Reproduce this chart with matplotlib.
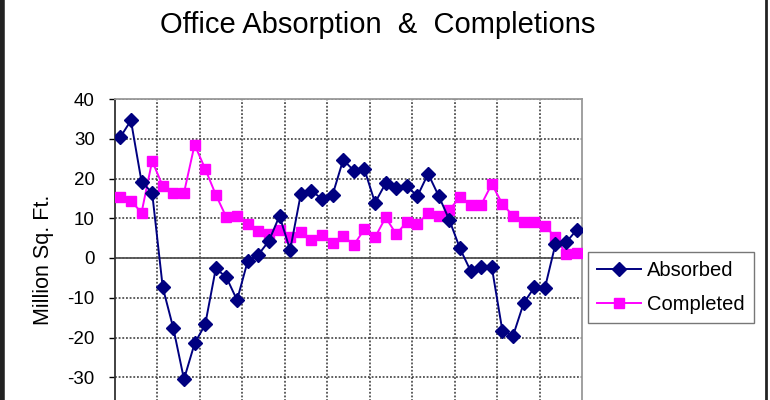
import numpy as np
import matplotlib
matplotlib.use('Agg')
import matplotlib.pyplot as plt
from matplotlib.lines import Line2D

# quarterly values, 11 years x 4 quarters
absorbed = [30.4, 34.6, 19.2, 16.4, -7.4, -17.7, -30.5, -21.5, -16.7, -2.6, -4.9, -10.6,
            -0.8, 0.8, 4.3, 10.6, 2.0, 16.0, 16.9, 14.9, 15.9, 24.7, 22.0, 22.3,
            13.9, 18.8, 17.7, 18.0, 15.6, 21.2, 15.6, 9.6, 2.4, -3.2, -2.2, -2.3,
            -18.3, -19.6, -11.4, -7.4, -7.6, 3.5, 3.9, 7.1]
completed = [15.4, 14.4, 11.4, 24.4, 18.1, 16.4, 16.4, 28.5, 22.4, 15.9, 10.2, 10.6,
             8.6, 6.9, 6.0, 7.1, 5.4, 6.6, 4.5, 5.8, 3.7, 5.6, 3.3, 7.2,
             5.2, 10.2, 6.0, 9.1, 8.6, 11.3, 10.6, 12.1, 15.3, 13.4, 13.4, 18.6,
             13.6, 10.6, 9.1, 9.1, 8.1, 5.2, 1.0, 1.2]
yticks = [-30, -20, -10, 0, 10, 20, 30, 40]

plt.rcParams['font.family'] = ['Liberation Sans', 'DejaVu Sans']

fig = plt.figure(figsize=(7.7, 4.0), dpi=100)
ax = fig.add_axes([115 / 770, 1 - 417 / 400, 467 / 770, 318 / 400])

n = len(absorbed)
x = np.arange(n) + 0.5
ax.plot(x, absorbed, color='#000080', marker='D', markersize=7, lw=1.4, label='Absorbed', zorder=4)
ax.plot(x, completed, color='#FF00FF', marker='s', markersize=7.5, lw=1.4, label='Completed', zorder=3)

ax.set_xlim(0, n)
ax.set_ylim(-40, 40)
ax.set_yticks(yticks)
ax.set_yticklabels([str(v) for v in yticks])
ax.set_xticks(np.arange(4, n, 4))
ax.set_xticklabels([])
ax.tick_params(axis='x', length=0)
ax.tick_params(axis='y', direction='out', length=4.5, width=1, pad=10, labelsize=13.5, colors='black')
ax.grid(True, color='#333333', linestyle=(0, (1.2, 1.2)), linewidth=1.1)
ax.axhline(0, color='#555555', lw=1.3, zorder=2)
for s in ['top', 'right', 'bottom']:
    ax.spines[s].set_color('#999999')
    ax.spines[s].set_linewidth(1.3)
ax.spines['left'].set_color('#333333')
ax.spines['left'].set_linewidth(1.3)

fig.text(0.49, 1 - 25 / 400, 'Office Absorption  &  Completions', ha='center', va='center', fontsize=21)
fig.text(44 / 770, 1 - 260 / 400, 'Million Sq. Ft.', rotation=90, ha='center', va='center', fontsize=15.5)

leg = fig.legend(loc='upper left', bbox_to_anchor=(588 / 770, 1 - 252 / 400), fontsize=14.5,
                 frameon=True, fancybox=False, edgecolor='#555555', handlelength=2.2,
                 handletextpad=0.3, labelspacing=0.75, borderpad=0.45, borderaxespad=0)
leg.get_frame().set_linewidth(1.0)

# outer frame edges visible in the cropped chart
fig.add_artist(Line2D([2 / 770, 2 / 770], [0, 1], color='#222222', lw=4, transform=fig.transFigure))
fig.add_artist(Line2D([766 / 770, 766 / 770], [0, 1], color='#222222', lw=2, transform=fig.transFigure))

fig.savefig('out.png', dpi=100)
